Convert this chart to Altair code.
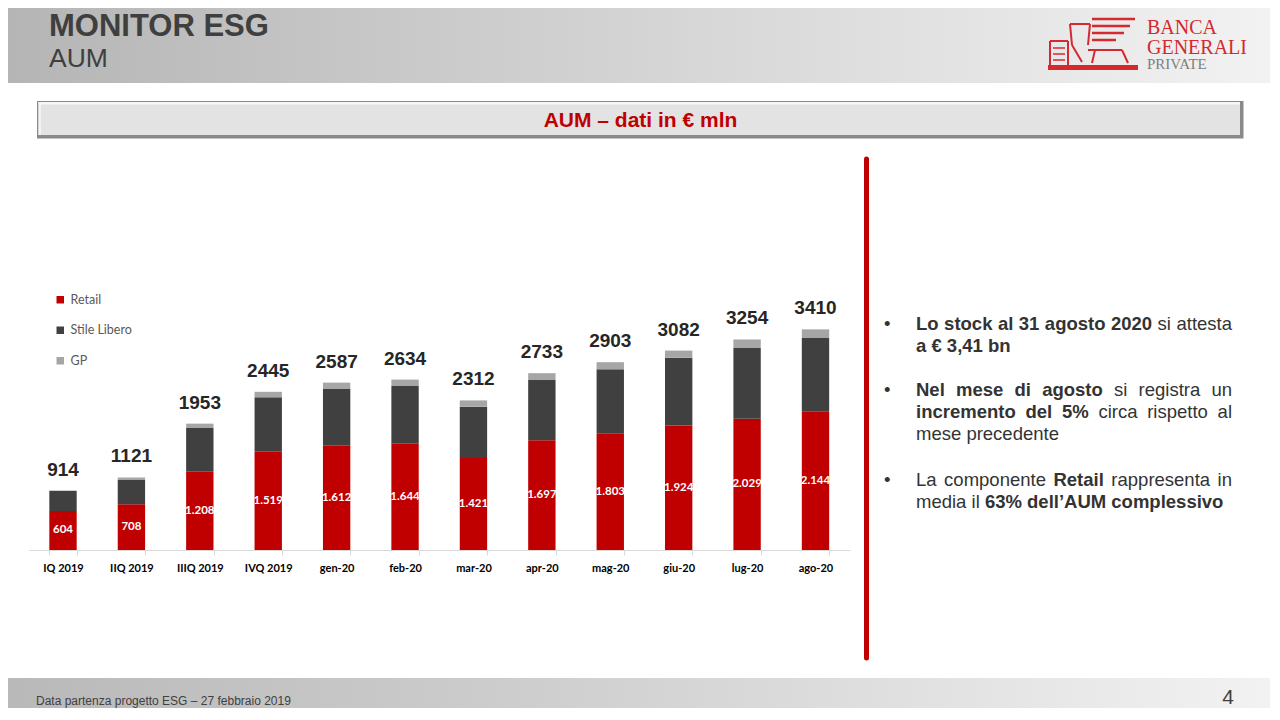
import altair as alt
import pandas as pd

# ---------------- data ----------------
cats = ["IQ 2019", "IIQ 2019", "IIIQ 2019", "IVQ 2019", "gen-20", "feb-20",
        "mar-20", "apr-20", "mag-20", "giu-20", "lug-20", "ago-20"]
retail = [604, 708, 1208, 1519, 1612, 1644, 1421, 1697, 1803, 1924, 2029, 2144]
stile = [310, 374, 678, 841, 876, 891, 794, 930, 990, 1048, 1093, 1133]
gp = [0, 39, 67, 85, 99, 99, 97, 106, 110, 110, 132, 133]
totals = [914, 1121, 1953, 2445, 2587, 2634, 2312, 2733, 2903, 3082, 3254, 3410]
series = ["Retail", "Stile Libero", "GP"]
colors = ["#C00000", "#404040", "#A6A6A6"]

# ---------------- layout helpers ----------------
OFF = 8
W, H = 1262, 700


def px(v):
    return v - OFF


FONT = "Liberation Sans"
LOGO_RED = "#D42A2F"


def rect(x1, y1, x2, y2, fill):
    return alt.Chart(pd.DataFrame({"k": [0]})).mark_rect(fill=fill, stroke=None).encode(
        x=alt.value(px(x1)), x2=alt.value(px(x2)), y=alt.value(px(y1)), y2=alt.value(px(y2))
    )


def line(x1, y1, x2, y2, color, width=2):
    return alt.Chart(pd.DataFrame({"k": [0]})).mark_rule(color=color, strokeWidth=width).encode(
        x=alt.value(px(x1)), x2=alt.value(px(x2)), y=alt.value(px(y1)), y2=alt.value(px(y2))
    )


def label(txt, x, y, size, color="#404040", weight="normal", align="left", font=FONT):
    return alt.Chart(pd.DataFrame({"t": [txt]})).mark_text(
        font=font, fontSize=size, fontWeight=weight, color=color, align=align,
        baseline="alphabetic"
    ).encode(x=alt.value(px(x)), y=alt.value(px(y)), text="t:N")


def grad(stops):
    return alt.Gradient(gradient="linear", x1=0, x2=1, y1=0, y2=0,
                        stops=[alt.GradientStop(offset=o, color=c) for o, c in stops])


# ---------------- chart data frames ----------------
rows = []
for i, c in enumerate(cats):
    for k, (s, vals) in enumerate(zip(series, [retail, stile, gp])):
        rows.append({"cat": c, "series": s, "value": vals[i], "ord": k})
bars_df = pd.DataFrame(rows)

lab_df = pd.DataFrame({
    "cat": cats,
    "total": totals,
    "mid": [r / 2 for r in retail],
    "rlab": [f"{r:,}".replace(",", ".") for r in retail],
    "tlab": [str(t) for t in totals],
})

BASE = px(550)
PXU = 0.0647
YMAX = 4000
yscale = alt.Scale(domain=[0, YMAX], range=[BASE, BASE - YMAX * PXU], nice=False, zero=True)
xscale = alt.Scale(domain=cats, range=[px(28.8), px(849.7)], paddingInner=0.6, paddingOuter=0.3)
xaxis = alt.Axis(title=None, orient="bottom", offset=BASE - H, domainColor="#D9D9D9",
                 domainWidth=1, tickColor="#D9D9D9", tickSize=5, tickBand="extent",
                 labelFont="Lato", labelFontWeight="bold", labelFontSize=11,
                 labelColor="#000000", labelPadding=7, labelAngle=0, grid=False)
xenc = alt.X("cat:N", scale=xscale, axis=xaxis)

bars = alt.Chart(bars_df).mark_bar(stroke=None).encode(
    x=xenc,
    y=alt.Y("value:Q", stack="zero", scale=yscale, axis=None),
    color=alt.Color("series:N", scale=alt.Scale(domain=series, range=colors),
                    legend=alt.Legend(title=None, orient="none", legendX=px(54), legendY=px(293.5),
                                      symbolType="square", symbolSize=56, symbolStrokeWidth=0,
                                      labelFont="Lato", labelFontSize=12.5, labelColor="#595959",
                                      rowPadding=17.5, labelOffset=4, direction="vertical")),
    order=alt.Order("ord:Q", sort="ascending"),
)

tot_text = alt.Chart(lab_df).mark_text(
    font=FONT, fontSize=19, fontWeight="bold", color="#262626", baseline="alphabetic", dy=-15
).encode(x=xenc, y=alt.Y("total:Q", scale=yscale, axis=None), text="tlab:N")

ret_text = alt.Chart(lab_df).mark_text(
    font="Lato", fontSize=11.5, fontWeight="bold", color="#FFFFFF", baseline="middle"
).encode(x=xenc, y=alt.Y("mid:Q", scale=yscale, axis=None), text="rlab:N")

# ---------------- slide decorations ----------------
header = alt.Chart(pd.DataFrame({"k": [0]})).mark_rect(
    fill=grad([(0, "#B5B5B5"), (0.35, "#CBCBCB"), (1, "#F2F2F2")])
).encode(x=alt.value(0), x2=alt.value(W), y=alt.value(0), y2=alt.value(px(83)))

footer = alt.Chart(pd.DataFrame({"k": [0]})).mark_rect(
    fill=grad([(0, "#B9B9B9"), (0.4, "#CDCDCD"), (1, "#F2F2F2")])
).encode(x=alt.value(0), x2=alt.value(W), y=alt.value(px(678)), y2=alt.value(H))

title1 = label("MONITOR ESG", 49, 36, 31, color="#3F3F3F", weight="bold")
title2 = label("AUM", 49, 67, 26.5, color="#3F3F3F")

# simplified emblem: base, book and wing strokes
logo_parts = [
    rect(1048, 65, 1138, 70, LOGO_RED),
    line(1050, 41, 1068, 41, LOGO_RED, 2), line(1050, 41, 1050, 65, LOGO_RED, 2),
    line(1068, 41, 1068, 65, LOGO_RED, 2), line(1053, 48, 1065, 48, LOGO_RED, 1.5),
    line(1053, 54, 1065, 54, LOGO_RED, 1.5), line(1053, 60, 1065, 60, LOGO_RED, 1.5),
    line(1092, 19, 1135, 19, LOGO_RED, 2.5), line(1092, 26, 1130, 26, LOGO_RED, 2.5),
    line(1092, 33, 1124, 33, LOGO_RED, 2.5), line(1092, 40, 1116, 40, LOGO_RED, 2.5),
    line(1070, 24, 1090, 24, LOGO_RED, 2), line(1070, 24, 1072, 45, LOGO_RED, 2),
    line(1072, 45, 1082, 62, LOGO_RED, 2), line(1090, 24, 1088, 45, LOGO_RED, 2),
    line(1088, 50, 1122, 50, LOGO_RED, 2), line(1122, 50, 1128, 63, LOGO_RED, 2),
    line(1095, 50, 1092, 63, LOGO_RED, 2),
]
logo1 = label("BANCA", 1147, 34, 20, color=LOGO_RED, font="Liberation Serif")
logo2 = label("GENERALI", 1147, 54, 20, color=LOGO_RED, font="Liberation Serif")
logo3 = label("PRIVATE", 1147, 69, 15, color="#7F7F7F", font="Liberation Serif")

ban_outer = rect(37, 101, 1243.5, 138.5, "#8A8A8A")
ban_inner = rect(38.5, 102, 1240, 135, "#E3E3E3")
ban_top = rect(38.5, 102, 1240, 104.5, "#F7F7F7")
ban_left = rect(38.5, 102, 41, 135, "#F3F3F3")
ban_text = label("AUM – dati in € mln", 640.5, 127, 21, color="#C00000", weight="bold", align="center")

red_line = alt.Chart(pd.DataFrame({"k": [0]})).mark_rule(
    color="#C00000", strokeWidth=5, strokeCap="round"
).encode(x=alt.value(px(866.5)), y=alt.value(px(159)), y2=alt.value(px(658)))

foot_text = label("Data partenza progetto ESG – 27 febbraio 2019", 36, 705, 12, color="#404040")
page_no = label("4", 1228, 704, 21, color="#404040", align="center")

# ---------------- bullet text (justified) ----------------
AR_REG = {" ": 278, "a": 556, "b": 556, "c": 500, "d": 556, "e": 556, "g": 556, "i": 222,
          "k": 500, "l": 222, "m": 833, "n": 556, "o": 556, "p": 556, "r": 333, "s": 500,
          "t": 278, "u": 556, "v": 500, "%": 889, ",": 278, "€": 556, "’": 222, "L": 556,
          "N": 722, "R": 722, "A": 667, "U": 722, "M": 833}
AR_BOLD = {" ": 278, "a": 556, "b": 611, "c": 556, "d": 611, "e": 556, "g": 611, "i": 278,
           "k": 556, "l": 278, "m": 889, "n": 611, "o": 611, "p": 611, "r": 389, "s": 556,
           "t": 333, "u": 611, "v": 556, "%": 889, ",": 278, "€": 556, "’": 278, "L": 611,
           "N": 722, "R": 722, "A": 722, "U": 722, "M": 833}
FS = 18.5
TX0, TX1 = 916, 1232


def tw(s, bold):
    t = AR_BOLD if bold else AR_REG
    return sum(t.get(ch, 556) for ch in s) * FS / 1000


lines = [
    (330, [("Lo stock al 31 agosto 2020", True), ("si attesta", False)], True, True),
    (352, [("a € 3,41 bn", True)], False, False),
    (396, [("Nel mese di agosto", True), ("si registra un", False)], True, True),
    (418, [("incremento del 5%", True), ("circa rispetto al", False)], True, False),
    (440, [("mese precedente", False)], False, False),
    (486, [("La componente", False), ("Retail", True), ("rappresenta in", False)], True, True),
    (508, [("media il", False), ("63% dell’AUM complessivo", True)], False, False),
]

wrows = []
brows = []
for base, segs, just, bullet in lines:
    words = [(w, b) for txt, b in segs for w in txt.split(" ")]
    widths = [tw(w, b) for w, b in words]
    sp = tw(" ", False)
    natural = sum(widths) + sp * (len(words) - 1)
    gap = sp + ((TX1 - TX0 - natural) / (len(words) - 1) if just and len(words) > 1 else 0)
    x = TX0
    for (w, b), wd in zip(words, widths):
        wrows.append({"px": px(x), "py": px(base), "w": w, "b": b})
        x += wd + gap
    if bullet:
        brows.append({"px": px(884), "py": px(base), "w": "•"})

words_df = pd.DataFrame(wrows)
bul_df = pd.DataFrame(brows)


def word_layer(df, weight):
    return alt.Chart(df).mark_text(
        font=FONT, fontSize=FS, fontWeight=weight, color="#333333", align="left",
        baseline="alphabetic"
    ).encode(x=alt.X("px:Q", scale=None, axis=None), y=alt.Y("py:Q", scale=None, axis=None),
             text="w:N")


bold_words = word_layer(words_df[words_df["b"]], "bold")
reg_words = word_layer(words_df[~words_df["b"]], "normal")
bullets = word_layer(bul_df, "normal")

chart = alt.layer(
    header, footer, title1, title2, *logo_parts, logo1, logo2, logo3,
    ban_outer, ban_inner, ban_top, ban_left, ban_text,
    red_line, foot_text, page_no,
    bars, tot_text, ret_text,
    bold_words, reg_words, bullets,
).properties(
    width=W, height=H, autosize=alt.AutoSizeParams(type="none"), padding=0,
    background="#FFFFFF",
).configure_view(stroke=None)

chart.save("out.html", embed_options={"renderer": "svg", "actions": False})
